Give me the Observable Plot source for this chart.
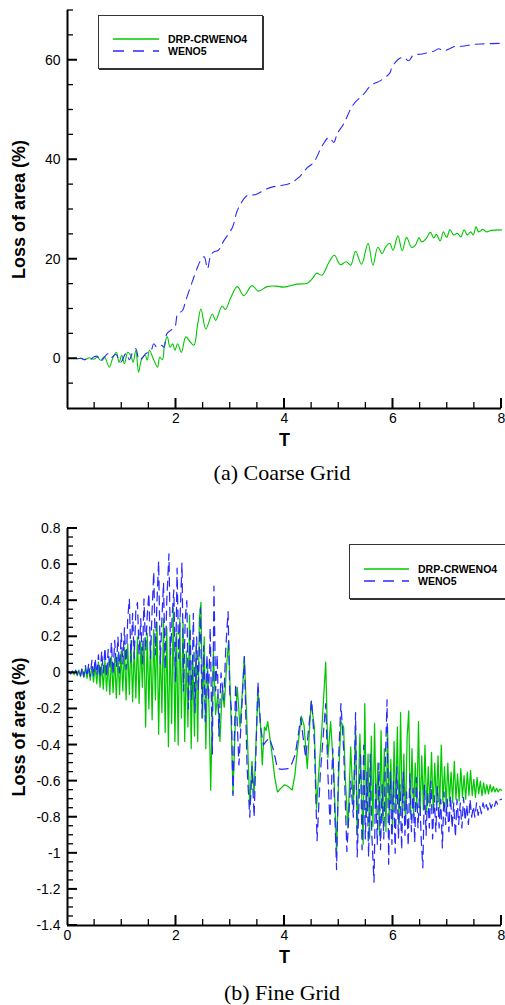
<!DOCTYPE html>
<html><head><meta charset="utf-8">
<script src="https://cdn.jsdelivr.net/npm/d3@7"></script>
<script src="https://cdn.jsdelivr.net/npm/@observablehq/plot@0.6"></script>
<style>
html,body{margin:0;padding:0;background:#fff;}
#wrap{position:relative;width:505px;height:1005px;overflow:hidden;font-family:"Liberation Sans",Arial,sans-serif;}
.chart{position:absolute;left:0;}
g[aria-label="x-axis label"] text, g[aria-label="y-axis label"] text{font-weight:bold;font-size:18px;}
.caption{position:absolute;left:132px;width:300px;text-align:center;font-family:"Liberation Serif",serif;font-size:22px;line-height:22px;color:#000;}
.legend{position:absolute;background:#fff;border:1px solid #333;box-shadow:1px 1px 0 #333;}
.legend svg{position:absolute;left:0;top:0;overflow:visible}
</style></head>
<body><div id="wrap"></div>
<script>
// ---------------- data ----------------
const seriesNames = ["DRP-CRWENO4", "WENO5"];
const captions = ["(a) Coarse Grid", "(b) Fine Grid"];
const axisTitleY = "Loss of area (%)";
const axisTitleX = "T";

// Coarse grid: [T, loss of area %]
const coarseGreen = [[0.18,0],[0.25,0.1],[0.32,-0.2],[0.40,0.2],[0.48,-0.1],[0.55,0.3],[0.61,-0.3],[0.68,0.4],[0.77,-1.7],[0.83,0.0],[0.90,1.3],[0.95,-0.7],[1.00,0.7],[1.05,-1.0],[1.11,1.3],[1.17,0.6],[1.21,-0.7],[1.26,1.7],[1.31,-2.7],[1.36,-0.3],[1.43,0.7],[1.47,-0.3],[1.51,1.7],[1.57,0.3],[1.61,-0.7],[1.66,-1.7],[1.70,0.3],[1.75,-0.2],[1.79,3.0],[1.84,4.4],[1.89,2.3],[1.94,3.0],[1.98,1.7],[2.03,3.0],[2.10,1.3],[2.18,4.4],[2.26,3.4],[2.33,2.7],[2.40,7.0],[2.46,10.0],[2.55,6.0],[2.67,9.0],[2.73,7.7],[2.85,10.6],[2.91,9.9],[3.01,12.3],[3.13,14.5],[3.25,12.7],[3.40,14.7],[3.52,13.6],[3.68,14.5],[3.85,14.6],[3.99,14.4],[4.23,15.0],[4.42,15.2],[4.52,16.2],[4.59,17.2],[4.69,16.8],[4.82,19.4],[4.92,20.8],[5.03,18.9],[5.14,19.5],[5.22,18.8],[5.31,21.6],[5.42,19.0],[5.54,23.2],[5.63,18.8],[5.72,22.4],[5.80,21.1],[5.86,22.4],[5.94,23.2],[6.00,21.8],[6.09,24.7],[6.17,21.7],[6.25,24.4],[6.34,22.4],[6.41,22.8],[6.48,24.3],[6.53,23.5],[6.60,24.0],[6.69,25.4],[6.75,24.3],[6.80,25.0],[6.87,23.7],[6.93,25.5],[6.99,24.4],[7.05,25.9],[7.12,24.9],[7.19,25.2],[7.25,24.5],[7.31,25.9],[7.37,24.9],[7.43,25.5],[7.48,24.9],[7.53,26.5],[7.58,25.5],[7.66,26.0],[7.72,25.5],[7.81,25.8],[8.00,25.9]];
const coarseBlue = [[0.18,0],[0.25,0.1],[0.31,-0.2],[0.37,0.2],[0.43,-0.1],[0.49,0.4],[0.55,0.5],[0.61,-0.5],[0.68,0.3],[0.74,1.0],[0.80,0.2],[0.89,0.9],[0.98,-0.7],[1.08,1.1],[1.14,-0.2],[1.20,1.3],[1.26,2.0],[1.32,-0.3],[1.38,0.2],[1.44,1.0],[1.54,1.7],[1.59,3.0],[1.65,2.3],[1.73,2.7],[1.78,2.3],[1.83,5.0],[1.90,5.7],[1.98,6.4],[2.03,9.0],[2.12,9.7],[2.18,11.7],[2.30,15.5],[2.40,18.5],[2.45,19.7],[2.52,20.5],[2.58,18.1],[2.64,20.8],[2.70,21.5],[2.78,21.8],[2.88,23.7],[3.04,26.4],[3.12,29.5],[3.19,31.1],[3.31,32.8],[3.47,33.0],[3.62,33.9],[3.80,34.6],[3.93,34.8],[4.11,35.3],[4.27,36.5],[4.42,38.4],[4.54,39.5],[4.70,42.9],[4.82,44.5],[4.91,43.5],[4.97,45.2],[5.09,47.2],[5.22,50.2],[5.29,51.4],[5.46,53.2],[5.59,54.9],[5.77,55.9],[5.94,57.4],[5.98,58.6],[6.11,60.3],[6.20,60.6],[6.29,59.9],[6.38,61.1],[6.50,61.2],[6.63,61.5],[6.75,61.8],[6.84,62.3],[6.94,61.9],[7.06,62.4],[7.18,62.9],[7.27,62.8],[7.49,63.2],[7.67,63.3],[8.00,63.4]];

// Fine grid: [T, loss of area %]
const fineGreen = [[0.00,0],[0.03,0.005],[0.06,-0.005],[0.09,0.008],[0.12,-0.01],[0.15,0.012],[0.18,-0.015],[0.21,0.015],[0.24,-0.02],[0.27,0.02],[0.30,-0.025],[0.33,0.025],[0.36,-0.03],[0.39,0.03],[0.42,-0.04],[0.45,0.035],[0.48,-0.05],[0.51,0.04],[0.54,-0.06],[0.57,0.06],[0.60,-0.08],[0.63,0.05],[0.66,-0.09],[0.69,0.07],[0.72,-0.10],[0.75,0.06],[0.78,-0.12],[0.81,0.09],[0.84,-0.11],[0.87,0.08],[0.90,-0.14],[0.93,0.10],[0.96,-0.12],[0.99,0.12],[1.02,-0.10],[1.05,0.14],[1.08,-0.15],[1.11,0.16],[1.14,-0.12],[1.17,0.18],[1.20,-0.16],[1.23,0.15],[1.26,-0.14],[1.29,0.20],[1.32,-0.17],[1.35,0.17],[1.38,-0.08],[1.41,0.19],[1.44,-0.30],[1.47,0.22],[1.50,-0.20],[1.53,0.18],[1.56,-0.26],[1.59,0.24],[1.62,-0.15],[1.65,0.28],[1.68,-0.34],[1.71,0.15],[1.74,-0.22],[1.77,0.30],[1.80,-0.33],[1.83,0.25],[1.86,-0.41],[1.89,0.20],[1.92,-0.28],[1.95,0.36],[1.98,-0.38],[2.01,0.22],[2.04,-0.40],[2.07,0.30],[2.10,-0.25],[2.13,0.28],[2.16,-0.38],[2.19,0.12],[2.22,-0.30],[2.25,0.32],[2.28,-0.42],[2.31,0.10],[2.34,-0.35],[2.37,0.15],[2.40,-0.38],[2.43,0.30],[2.46,0.39],[2.49,-0.25],[2.52,0.20],[2.55,-0.42],[2.58,0.05],[2.61,-0.20],[2.64,-0.65],[2.69,0.12],[2.73,-0.23],[2.77,-0.12],[2.81,-0.38],[2.85,-0.10],[2.89,-0.19],[2.93,0.03],[2.97,0.18],[3.02,-0.30],[3.05,-0.67],[3.10,-0.23],[3.13,-0.08],[3.18,-0.30],[3.22,-0.12],[3.26,0.09],[3.31,-0.30],[3.36,-0.74],[3.40,-0.49],[3.44,-0.67],[3.51,-0.10],[3.56,-0.30],[3.59,-0.51],[3.63,-0.30],[3.66,-0.32],[3.69,-0.27],[3.74,-0.38],[3.77,-0.45],[3.82,-0.58],[3.87,-0.66],[3.93,-0.64],[4.00,-0.62],[4.07,-0.63],[4.14,-0.65],[4.19,-0.57],[4.23,-0.45],[4.31,-0.24],[4.36,-0.29],[4.42,-0.53],[4.49,-0.16],[4.55,-0.30],[4.59,-0.75],[4.63,-0.56],[4.69,-0.30],[4.76,0.06],[4.80,-0.47],[4.85,-0.27],[4.91,-0.56],[4.96,-0.99],[5.00,-0.56],[5.04,-0.27],[5.09,-0.30],[5.12,-0.58],[5.17,-0.86],[5.22,-0.41],[5.27,-0.75],[5.31,-0.30],[5.34,-0.89],[5.39,-0.34],[5.45,-0.95],[5.48,-0.17],[5.51,-0.80],[5.54,-0.45],[5.57,-0.92],[5.60,-0.35],[5.63,-0.85],[5.66,-0.28],[5.69,-0.78],[5.72,-0.50],[5.75,-0.90],[5.78,-0.32],[5.81,-0.82],[5.84,-0.42],[5.87,-0.88],[5.90,-0.30],[5.93,-0.80],[5.96,-0.48],[5.99,-0.86],[6.02,-0.38],[6.05,-0.76],[6.08,-0.30],[6.11,-0.84],[6.14,-0.22],[6.17,-0.80],[6.20,-0.45],[6.23,-0.84],[6.26,-0.36],[6.29,-0.21],[6.32,-0.78],[6.35,-0.42],[6.38,-0.80],[6.41,-0.50],[6.44,-0.75],[6.47,-0.27],[6.50,-0.79],[6.53,-0.46],[6.56,-0.76],[6.59,-0.40],[6.62,-0.77],[6.65,-0.52],[6.68,-0.74],[6.71,-0.44],[6.74,-0.76],[6.77,-0.50],[6.80,-0.73],[6.83,-0.46],[6.86,-0.75],[6.89,-0.40],[6.92,-0.72],[6.95,-0.52],[6.98,-0.74],[7.01,-0.50],[7.04,-0.71],[7.07,-0.55],[7.10,-0.72],[7.13,-0.49],[7.16,-0.70],[7.19,-0.56],[7.22,-0.71],[7.25,-0.53],[7.28,-0.69],[7.31,-0.57],[7.34,-0.70],[7.37,-0.55],[7.40,-0.68],[7.43,-0.54],[7.46,-0.68],[7.49,-0.59],[7.52,-0.69],[7.55,-0.58],[7.58,-0.67],[7.61,-0.60],[7.64,-0.68],[7.67,-0.61],[7.70,-0.67],[7.73,-0.62],[7.76,-0.67],[7.79,-0.62],[7.82,-0.66],[7.85,-0.63],[7.88,-0.66],[7.91,-0.64],[7.94,-0.66],[7.97,-0.645],[8.00,-0.65]];
const fineBlue = [[0.00,0],[0.03,0.005],[0.06,-0.005],[0.09,0.01],[0.12,-0.008],[0.15,0.015],[0.18,-0.01],[0.21,0.02],[0.24,-0.015],[0.27,0.03],[0.30,-0.02],[0.33,0.04],[0.36,-0.02],[0.39,0.05],[0.42,-0.02],[0.45,0.07],[0.48,-0.02],[0.51,0.08],[0.54,-0.01],[0.57,0.10],[0.60,-0.03],[0.63,0.12],[0.66,0.0],[0.69,0.14],[0.72,-0.02],[0.75,0.13],[0.78,0.02],[0.81,0.17],[0.84,-0.01],[0.87,0.18],[0.90,0.03],[0.93,0.20],[0.96,0.0],[0.99,0.22],[1.02,0.05],[1.05,0.25],[1.08,0.02],[1.11,0.30],[1.14,0.41],[1.17,0.06],[1.20,0.33],[1.23,0.08],[1.26,0.35],[1.29,0.39],[1.32,0.10],[1.35,0.30],[1.38,0.05],[1.41,0.41],[1.44,0.12],[1.47,0.32],[1.50,0.44],[1.53,0.08],[1.56,0.35],[1.59,0.56],[1.62,0.10],[1.65,0.40],[1.68,0.62],[1.71,0.05],[1.74,0.30],[1.77,0.50],[1.80,0.02],[1.83,0.40],[1.87,0.66],[1.90,0.10],[1.93,0.32],[1.96,0.46],[1.99,-0.05],[2.02,0.58],[2.05,0.08],[2.08,0.35],[2.11,0.61],[2.14,-0.10],[2.17,0.30],[2.20,0.40],[2.23,-0.20],[2.26,0.25],[2.29,-0.15],[2.32,0.33],[2.35,-0.22],[2.38,0.20],[2.41,-0.10],[2.45,0.36],[2.48,-0.25],[2.51,0.15],[2.54,-0.27],[2.57,0.10],[2.60,-0.15],[2.63,0.25],[2.67,-0.45],[2.70,0.48],[2.73,-0.10],[2.76,0.10],[2.79,-0.35],[2.83,0.0],[2.88,-0.15],[2.92,0.15],[2.96,0.34],[2.99,-0.10],[3.02,-0.20],[3.05,-0.68],[3.10,-0.06],[3.16,-0.51],[3.22,-0.15],[3.26,0.09],[3.31,-0.52],[3.36,-0.80],[3.40,-0.52],[3.44,-0.80],[3.51,-0.05],[3.56,-0.30],[3.61,-0.40],[3.66,-0.38],[3.72,-0.36],[3.80,-0.43],[3.87,-0.53],[3.95,-0.535],[4.08,-0.53],[4.14,-0.50],[4.20,-0.45],[4.30,-0.25],[4.39,-0.47],[4.50,-0.15],[4.55,-0.38],[4.60,-0.93],[4.66,-0.56],[4.76,-0.17],[4.80,-0.56],[4.84,-0.84],[4.89,-0.42],[4.96,-1.09],[5.00,-0.45],[5.04,-0.17],[5.09,-0.42],[5.15,-0.99],[5.22,-0.60],[5.27,-0.80],[5.31,-0.22],[5.34,-1.02],[5.37,-0.75],[5.40,-0.45],[5.43,-0.98],[5.46,-0.40],[5.49,-0.92],[5.52,-0.55],[5.55,-1.02],[5.58,-0.45],[5.61,-0.90],[5.65,-1.16],[5.68,-0.60],[5.71,-0.95],[5.74,-0.50],[5.77,-0.98],[5.80,-0.62],[5.83,-0.92],[5.86,-0.48],[5.89,-0.15],[5.92,-1.06],[5.95,-0.55],[5.98,-0.95],[6.01,-0.60],[6.04,-1.00],[6.07,-0.52],[6.10,-0.92],[6.13,-0.62],[6.16,-0.98],[6.19,-0.55],[6.22,-0.90],[6.25,-0.66],[6.28,-0.96],[6.31,-0.56],[6.34,-0.88],[6.37,-0.64],[6.40,-0.94],[6.43,-0.58],[6.46,-0.86],[6.49,-0.66],[6.52,-0.92],[6.55,-1.08],[6.58,-0.62],[6.61,-0.90],[6.64,-0.66],[6.67,-0.86],[6.70,-0.60],[6.73,-0.92],[6.76,-0.68],[6.79,-0.88],[6.82,-0.63],[6.85,-0.86],[6.88,-0.70],[6.91,-0.97],[6.94,-0.66],[6.97,-0.84],[7.00,-0.70],[7.03,-0.88],[7.06,-0.68],[7.09,-0.86],[7.12,-0.72],[7.15,-0.91],[7.18,-0.70],[7.21,-0.84],[7.24,-0.72],[7.27,-0.86],[7.30,-0.69],[7.33,-0.82],[7.36,-0.73],[7.39,-0.84],[7.42,-0.70],[7.45,-0.80],[7.48,-0.74],[7.51,-0.80],[7.54,-0.72],[7.57,-0.79],[7.60,-0.74],[7.63,-0.78],[7.66,-0.72],[7.69,-0.76],[7.72,-0.73],[7.75,-0.76],[7.78,-0.72],[7.81,-0.75],[7.84,-0.72],[7.87,-0.74],[7.90,-0.71],[7.93,-0.73],[7.96,-0.705],[8.00,-0.70]];

// Ticks
const coarseYMajor = [0, 20, 40, 60];
const coarseYMinor = [-5, 5, 10, 15, 25, 30, 35, 45, 50, 55, 65, 70];
const coarseXLabels = [2, 4, 6, 8];
const fineYMajor = [0.8, 0.6, 0.4, 0.2, 0, -0.2, -0.4, -0.6, -0.8, -1, -1.2, -1.4];
const fineYMinor = [0.75,0.7,0.65,0.55,0.5,0.45,0.35,0.3,0.25,0.15,0.1,0.05,-0.05,-0.1,-0.15,-0.25,-0.3,-0.35,-0.45,-0.5,-0.55,-0.65,-0.7,-0.75,-0.85,-0.9,-0.95,-1.05,-1.1,-1.15,-1.25,-1.3,-1.35];
const fineXLabels = [0, 2, 4, 6, 8];
const xMajor = [2, 4, 6, 8];
const xMinor = [0.5, 1, 1.5, 2.5, 3, 3.5, 4.5, 5, 5.5, 6.5, 7, 7.5];

// ---------------- styles ----------------
const GREEN = "#00c800";
const BLUE = "#2a2aff";
const FONT = '"Liberation Sans", Arial, Helvetica, sans-serif';
const W = 505, ML = 67, MR = 4, MB = 40;

function makeChart(o) {
  const svg = Plot.plot({
    width: W, height: o.height,
    marginLeft: ML, marginRight: MR, marginTop: o.marginTop, marginBottom: MB,
    style: {fontFamily: FONT, fontSize: "14px", color: "#000", background: "transparent", overflow: "visible"},
    x: {domain: [0, 8], label: null},
    y: {domain: o.yDomain, label: null},
    marks: [
      Plot.line(o.green, {x: d => d[0], y: d => d[1], stroke: GREEN, strokeWidth: o.lw, curve: o.curve}),
      Plot.line(o.blue, {x: d => d[0], y: d => d[1], stroke: BLUE, strokeWidth: o.lw, strokeDasharray: "9,6", curve: o.curve}),
      Plot.ruleX([0], {stroke: "black", strokeWidth: 2}),
      Plot.ruleY([o.yDomain[0]], {stroke: "black", strokeWidth: 2}),
      Plot.axisY(o.yMajor, {tickSize: 0, tickPadding: 7, tickFormat: o.yFmt, label: axisTitleY, labelAnchor: "center", labelOffset: 55, labelArrow: "none"}),
      Plot.axisX(o.xLabels, {tickSize: 0, tickPadding: 5, tickFormat: d => String(d), label: axisTitleX, labelAnchor: "center", labelOffset: 37, labelArrow: "none"})
    ]
  });
  // inward tick marks placed with the chart's own x / y scales, appended on top
  try {
    const sxs = svg.scale("x"), sys = svg.scale("y");
    const sx = sxs.apply ? (v => sxs.apply(v)) : d3.scaleLinear(sxs.domain, sxs.range);
    const sy = sys.apply ? (v => sys.apply(v)) : d3.scaleLinear(sys.domain, sys.range);
    const x0 = sx(0), y0 = sy(o.yDomain[0]);
    const g = d3.select(svg).append("g").attr("aria-label", "inward ticks").attr("stroke", "#000").attr("stroke-linecap", "butt");
    const yt = (vals, len, sw) => vals.forEach(v => g.append("line")
      .attr("x1", x0).attr("x2", x0 + len).attr("y1", sy(v)).attr("y2", sy(v)).attr("stroke-width", sw));
    const xt = (vals, len, sw) => vals.forEach(v => g.append("line")
      .attr("x1", sx(v)).attr("x2", sx(v)).attr("y1", y0).attr("y2", y0 - len).attr("stroke-width", sw));
    yt(o.yMinor, 6, 1.3); yt(o.yMajor, 10, 2);
    xt(xMinor, 6, 1.3); xt(xMajor, 10, 2);
  } catch (e) { console.error(e); }
  return svg;
}

function makeLegend(box, lineY, lineX, textX, dashes) {
  const div = document.createElement("div");
  div.className = "legend";
  Object.assign(div.style, {left: box[0] + "px", top: box[1] + "px", width: box[2] + "px", height: box[3] + "px"});
  const svg = d3.create("svg").attr("width", box[2]).attr("height", box[3]);
  [GREEN, BLUE].forEach((c, i) => {
    svg.append("line").attr("x1", lineX[0]).attr("x2", lineX[1]).attr("y1", lineY[i]).attr("y2", lineY[i])
      .attr("stroke", c).attr("stroke-width", 1.3).attr("stroke-dasharray", i ? dashes : null);
    svg.append("text").attr("x", textX).attr("y", lineY[i]).attr("dy", "0.36em")
      .attr("font-family", FONT).attr("font-weight", "bold").attr("font-size", "10.5px").text(seriesNames[i]);
  });
  div.appendChild(svg.node());
  return div;
}

const wrap = document.getElementById("wrap");

const c1 = document.createElement("div"); c1.className = "chart"; c1.style.top = "0px";
c1.appendChild(makeChart({green: coarseGreen, blue: coarseBlue, yDomain: [-10, 70], yMajor: coarseYMajor, yMinor: coarseYMinor,
  xLabels: coarseXLabels, yFmt: d => String(d), marginTop: 10, height: 448, lw: 1.1, curve: "catmull-rom"}));
wrap.appendChild(c1);

const c2 = document.createElement("div"); c2.className = "chart"; c2.style.top = "500px";
c2.appendChild(makeChart({green: fineGreen, blue: fineBlue, yDomain: [-1.4, 0.8], yMajor: fineYMajor, yMinor: fineYMinor,
  xLabels: fineXLabels, yFmt: d => String(Math.round(d * 10) / 10), marginTop: 28, height: 465, lw: 1.25, curve: "linear"}));
wrap.appendChild(c2);

wrap.appendChild(makeLegend([98, 15, 163, 52], [23, 35], [14, 60], 69, "11,9"));
wrap.appendChild(makeLegend([349, 544, 170, 53], [24, 36], [14, 59], 68, "11,8"));

[[captions[0], 462], [captions[1], 982]].forEach(([t, y]) => {
  const d = document.createElement("div");
  d.className = "caption"; d.style.top = y + "px"; d.textContent = t;
  wrap.appendChild(d);
});
</script></body></html>
